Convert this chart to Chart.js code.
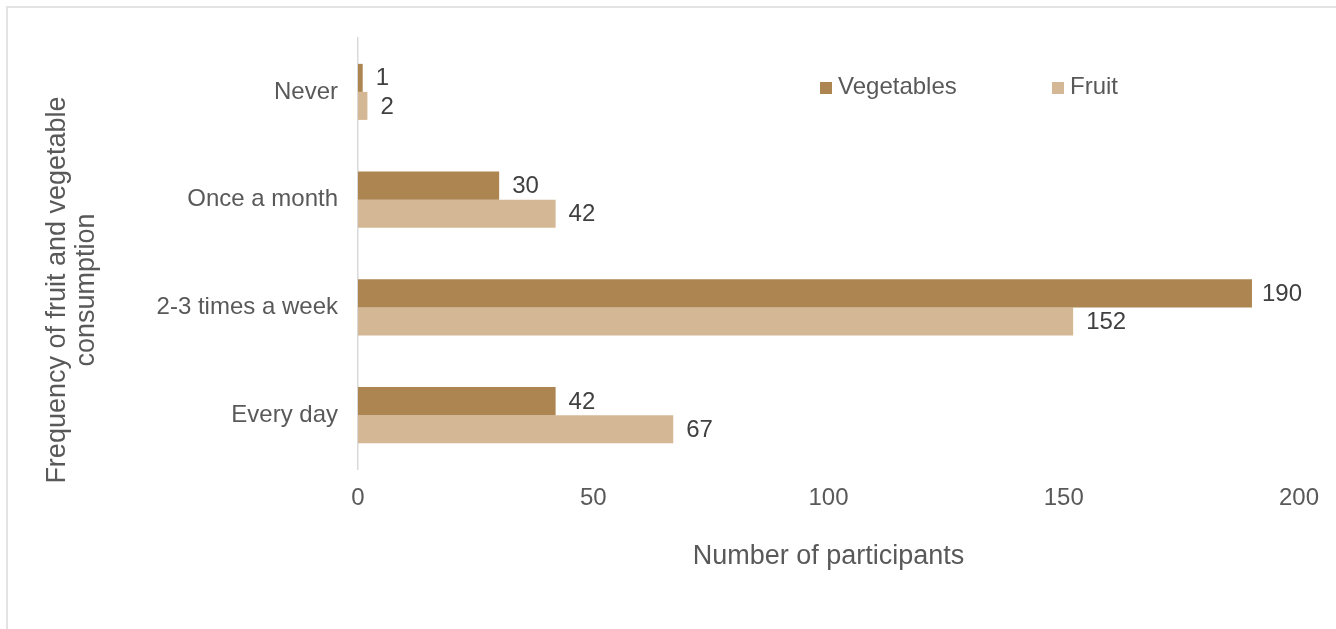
<!DOCTYPE html>
<html>
<head>
<meta charset="utf-8">
<script src="https://cdn.jsdelivr.net/npm/chart.js@4.4.1/dist/chart.umd.min.js"></script>
<style>
  body { margin: 0; background: #fff; }
  #frame { position: absolute; left: 6px; top: 6px; width: 1328px; height: 700px; border: 2px solid #e3e3e3; }
  #myChart { position: absolute; left: 0; top: 0; }
</style>
</head>
<body>
<div id="frame"></div>
<canvas id="myChart" width="1336" height="629"></canvas>
<script>
const categories = ["Never", "Once a month", "2-3 times a week", "Every day"];
const vegetables = [1, 30, 190, 42];
const fruit = [2, 42, 152, 67];
const seriesNames = ["Vegetables", "Fruit"];
const yTitleLines = ["Frequency of fruit and vegetable", "consumption"];
const xTitle = "Number of participants";

const FONT = "'Liberation Sans', Arial, sans-serif";
const vegColor = "#ad8550";
const fruitColor = "#d4b794";

Chart.defaults.font.family = FONT;
Chart.defaults.color = "#595959";

// value labels at the end of each bar
const barLabels = {
  id: "barLabels",
  afterDatasetsDraw(chart) {
    const ctx = chart.ctx;
    ctx.save();
    ctx.font = "24px " + FONT;
    ctx.fillStyle = "#404040";
    ctx.textAlign = "left";
    ctx.textBaseline = "middle";
    chart.data.datasets.forEach((ds, i) => {
      chart.getDatasetMeta(i).data.forEach((bar, j) => {
        // excel pulls the label in a bit when it nears the right edge
        const gap = bar.x > chart.chartArea.right - 60 ? 10 : 13;
        ctx.fillText(String(ds.data[j]), bar.x + gap, bar.y + 1);
      });
    });
    ctx.restore();
  },
};

// legend sitting inside the plot, top right
const insideLegend = {
  id: "insideLegend",
  afterDraw(chart) {
    const ctx = chart.ctx;
    const a = chart.chartArea;
    const spots = [a.left + 462, a.left + 694];
    ctx.save();
    ctx.font = "24px " + FONT;
    ctx.textBaseline = "middle";
    chart.data.datasets.forEach((ds, i) => {
      ctx.fillStyle = ds.backgroundColor;
      ctx.fillRect(spots[i], a.top + 44, 12, 12);
      ctx.fillStyle = "#595959";
      ctx.fillText(ds.label, spots[i] + 18, a.top + 49);
    });
    ctx.restore();
  },
};

// two-line rotated y title
const yTitle = {
  id: "yTitle",
  afterDraw(chart) {
    const ctx = chart.ctx;
    ctx.save();
    ctx.font = "27px " + FONT;
    ctx.fillStyle = "#595959";
    ctx.textAlign = "center";
    ctx.textBaseline = "middle";
    ctx.translate(58, 290);
    ctx.rotate(-Math.PI / 2);
    yTitleLines.forEach((line, i) => ctx.fillText(line, 0, i * 29));
    ctx.restore();
  },
};

const data = {
  labels: categories,
  datasets: [
    {
      label: seriesNames[0],
      data: vegetables,
      backgroundColor: vegColor,
      categoryPercentage: 0.52,
      barPercentage: 1,
    },
    {
      label: seriesNames[1],
      data: fruit,
      backgroundColor: fruitColor,
      categoryPercentage: 0.52,
      barPercentage: 1,
    },
  ],
};

const config = {
  type: "bar",
  data: data,
  plugins: [barLabels, insideLegend, yTitle],
  options: {
    indexAxis: "y",
    responsive: false,
    animation: false,
    devicePixelRatio: 1,
    layout: {
      padding: { left: 0, right: 37, top: 38, bottom: 0 },
    },
    plugins: {
      legend: { display: false },
      tooltip: { enabled: false },
    },
    scales: {
      x: {
        min: 0,
        max: 200,
        ticks: { stepSize: 50, padding: 15, font: { size: 24 }, color: "#595959" },
        grid: { display: false, drawTicks: false },
        border: { display: false },
        title: {
          display: true,
          text: xTitle,
          font: { size: 27 },
          color: "#595959",
          padding: { top: 0, bottom: 56 },
        },
        afterFit(scale) {
          scale.height = 160;
        },
      },
      y: {
        ticks: { padding: 20, font: { size: 24 }, color: "#595959" },
        grid: { display: false, drawTicks: false },
        border: { display: true, color: "#d9d9d9", width: 1.5 },
        afterFit(scale) {
          scale.width = 358;
        },
      },
    },
  },
};

const ctx = document.getElementById("myChart").getContext("2d");
var chartExist = Chart.getChart("myChart");
if (chartExist != undefined) {
  chartExist.destroy();
}
new Chart(ctx, config);
</script>
</body>
</html>
